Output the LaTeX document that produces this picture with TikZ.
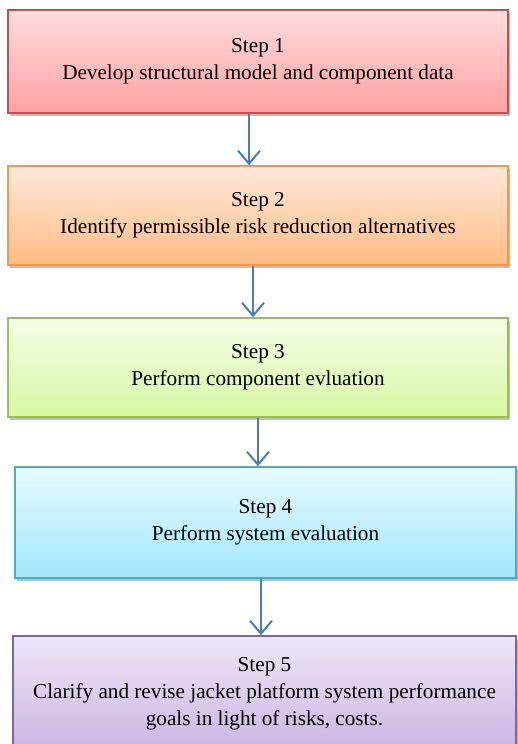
\documentclass[tikz,border=0pt]{standalone}
\usepackage{fontspec}
\setmainfont{Liberation Serif}
\usetikzlibrary{shadows,arrows.meta}
\definecolor{b1}{HTML}{C0504D}\definecolor{t1}{HTML}{FFDCDC}\definecolor{u1}{HTML}{FFA2A2}
\definecolor{b2}{HTML}{F79646}\definecolor{t2}{HTML}{FFE8D9}\definecolor{u2}{HTML}{FFBD85}
\definecolor{b3}{HTML}{9BBB59}\definecolor{t3}{HTML}{F5FEE8}\definecolor{u3}{HTML}{D6F9A0}
\definecolor{b4}{HTML}{4BACC6}\definecolor{t4}{HTML}{E8FAFF}\definecolor{u4}{HTML}{A0E7FB}
\definecolor{b5}{HTML}{8064A2}\definecolor{t5}{HTML}{EEE7F6}\definecolor{u5}{HTML}{C8B5E2}
\definecolor{arr}{HTML}{4A7EBB}
\tikzset{
  stepbox/.style={draw, line width=1.5pt, align=center, inner sep=0pt,
    font=\fontsize{21.2}{27}\selectfont,
    drop shadow={shadow xshift=1.5pt, shadow yshift=-3pt, opacity=0.25, fill=black}},
  flowarrow/.style={draw=arr, line width=2pt, -{Straight Barb[length=13pt,width=22pt,line width=2pt]}}
}
\begin{document}
\begin{tikzpicture}[x=1pt,y=-1pt]
\useasboundingbox (0,0) rectangle (518,744);
\clip (0,0) rectangle (518,744);
\node[stepbox, draw=b1, top color=t1, bottom color=u1, minimum width=500pt, minimum height=103pt] (s1) at (258,61.5) {Step 1\\Develop structural model and component data};
\node[stepbox, draw=b2, top color=t2, bottom color=u2, minimum width=500pt, minimum height=99pt] (s2) at (258,215.5) {Step 2\\Identify permissible risk reduction alternatives};
\node[stepbox, draw=b3, top color=t3, bottom color=u3, minimum width=500pt, minimum height=99pt] (s3) at (258,367.5) {Step 3\\Perform component evluation};
\node[stepbox, draw=b4, top color=t4, bottom color=u4, minimum width=501pt, minimum height=111pt] (s4) at (265.5,522.5) {Step 4\\Perform system evaluation};
\node[stepbox, draw=b5, top color=t5, bottom color=u5, minimum width=503pt, minimum height=116pt] (s5) at (264.5,694) {Step 5\\Clarify and revise jacket platform system performance\\goals in light of risks, costs.};
\draw[flowarrow] (s1.south -| 249,0) -- (s2.north -| 249,0);
\draw[flowarrow] (s2.south -| 253,0) -- (s3.north -| 253,0);
\draw[flowarrow] (s3.south -| 258,0) -- (s4.north -| 258,0);
\draw[flowarrow] (s4.south -| 261,0) -- (s5.north -| 261,0);
\end{tikzpicture}
\end{document}
